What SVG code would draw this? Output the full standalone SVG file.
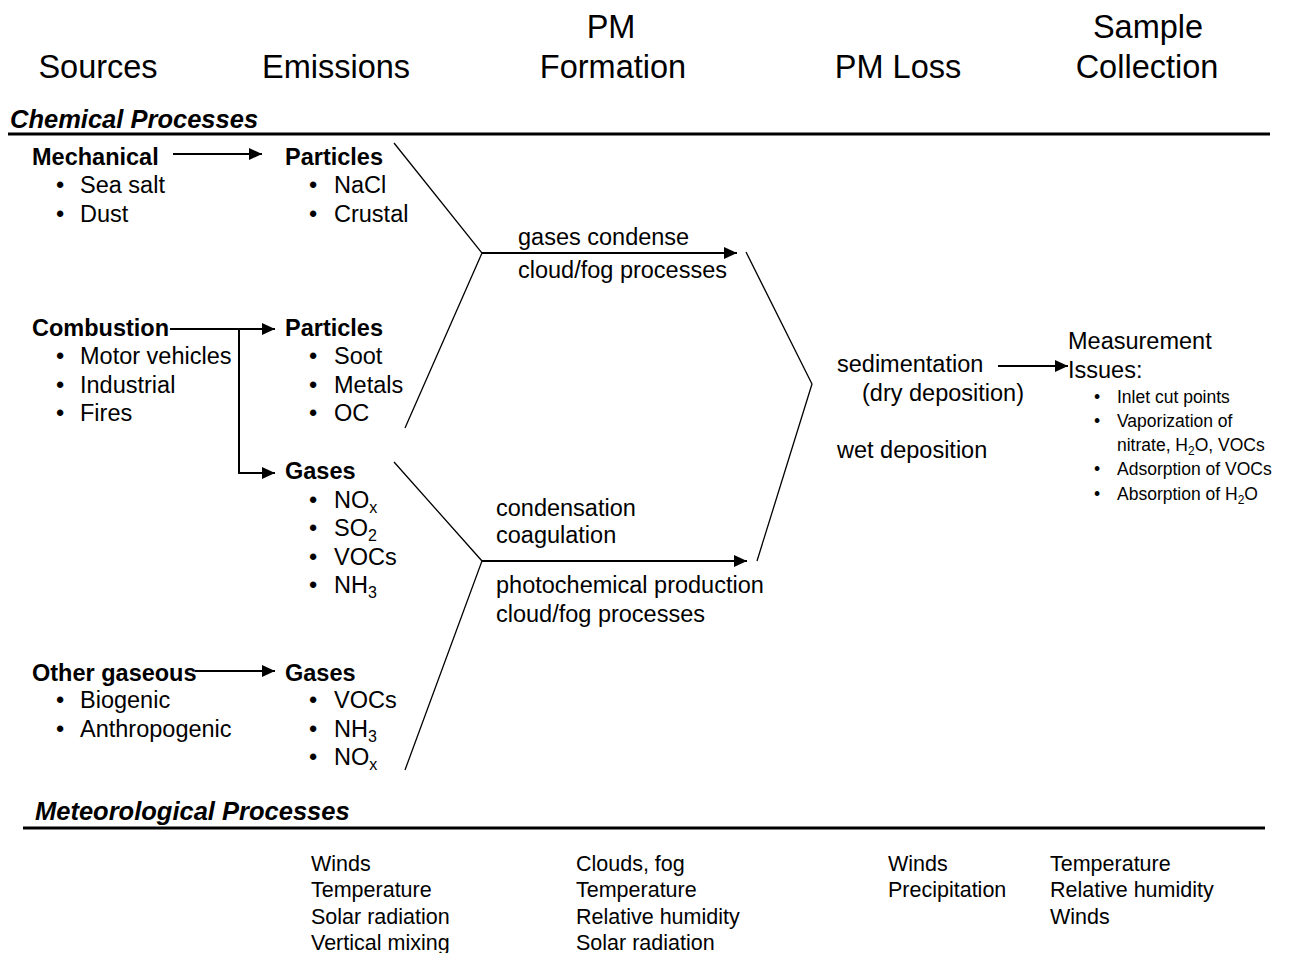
<svg xmlns="http://www.w3.org/2000/svg" width="1299" height="953" viewBox="0 0 1299 953">
<style>
text{font-family:"Liberation Sans",Arial,sans-serif;fill:#000}
.h{font-size:32.5px;text-anchor:middle}
.sec{font-size:25.5px;font-weight:bold;font-style:italic}
.b{font-size:23.5px;font-weight:bold}
.t{font-size:23.5px}
.s{font-size:17.5px}
.m{font-size:21.5px}
.arr{stroke:#000;stroke-width:2;fill:none;marker-end:url(#ah)}
.ln{stroke:#000;stroke-width:1.3;fill:none}
.rule{stroke:#000;stroke-width:3.2}
</style>
<defs>
<marker id="ah" markerUnits="userSpaceOnUse" markerWidth="14" markerHeight="12" refX="13" refY="6" orient="auto">
<path d="M0,0 L13,6 L0,12 Z" fill="#000"/>
</marker>
</defs>
<rect width="1299" height="953" fill="#fff"/>
<g id="headers">
<text class="h" x="98" y="78">Sources</text>
<text class="h" x="336" y="78">Emissions</text>
<text class="h" x="611" y="38">PM</text>
<text class="h" x="613" y="78">Formation</text>
<text class="h" x="898" y="78">PM Loss</text>
<text class="h" x="1148" y="38">Sample</text>
<text class="h" x="1147" y="78">Collection</text>
</g>
<g id="chemical-section">
<text class="sec" x="10" y="128">Chemical Processes</text>
<line class="rule" x1="8" y1="134" x2="1270" y2="134"/>
</g>
<g id="mechanical">
<text class="b" x="32" y="165">Mechanical</text>
<text class="t" x="56" y="193">•</text><text class="t" x="80" y="193">Sea salt</text>
<text class="t" x="56" y="222">•</text><text class="t" x="80" y="222">Dust</text>
</g>
<g id="combustion">
<text class="b" x="32" y="336">Combustion</text>
<text class="t" x="56" y="364">•</text><text class="t" x="80" y="364">Motor vehicles</text>
<text class="t" x="56" y="393">•</text><text class="t" x="80" y="393">Industrial</text>
<text class="t" x="56" y="421">•</text><text class="t" x="80" y="421">Fires</text>
</g>
<g id="other-gaseous">
<text class="b" x="32" y="681">Other gaseous</text>
<text class="t" x="56" y="708">•</text><text class="t" x="80" y="708">Biogenic</text>
<text class="t" x="56" y="737">•</text><text class="t" x="80" y="737">Anthropogenic</text>
</g>
<g id="particles-1">
<text class="b" x="285" y="165">Particles</text>
<text class="t" x="309" y="193">•</text><text class="t" x="334" y="193">NaCl</text>
<text class="t" x="309" y="222">•</text><text class="t" x="334" y="222">Crustal</text>
</g>
<g id="particles-2">
<text class="b" x="285" y="336">Particles</text>
<text class="t" x="309" y="364">•</text><text class="t" x="334" y="364">Soot</text>
<text class="t" x="309" y="393">•</text><text class="t" x="334" y="393">Metals</text>
<text class="t" x="309" y="421">•</text><text class="t" x="334" y="421">OC</text>
</g>
<g id="gases-1">
<text class="b" x="285" y="479">Gases</text>
<text class="t" x="309" y="508">•</text><text class="t" x="334" y="508">NO<tspan dy="5" font-size="16">x</tspan></text>
<text class="t" x="309" y="536">•</text><text class="t" x="334" y="536">SO<tspan dy="5" font-size="16">2</tspan></text>
<text class="t" x="309" y="565">•</text><text class="t" x="334" y="565">VOCs</text>
<text class="t" x="309" y="593">•</text><text class="t" x="334" y="593">NH<tspan dy="5" font-size="16">3</tspan></text>
</g>
<g id="gases-2">
<text class="b" x="285" y="681">Gases</text>
<text class="t" x="309" y="708">•</text><text class="t" x="334" y="708">VOCs</text>
<text class="t" x="309" y="737">•</text><text class="t" x="334" y="737">NH<tspan dy="5" font-size="16">3</tspan></text>
<text class="t" x="309" y="765">•</text><text class="t" x="334" y="765">NO<tspan dy="5" font-size="16">x</tspan></text>
</g>
<g id="formation-upper">
<text class="t" x="518" y="245">gases condense</text>
<text class="t" x="518" y="278">cloud/fog processes</text>
</g>
<g id="formation-lower">
<text class="t" x="496" y="516">condensation</text>
<text class="t" x="496" y="543">coagulation</text>
<text class="t" x="496" y="593">photochemical production</text>
<text class="t" x="496" y="622">cloud/fog processes</text>
</g>
<g id="pm-loss">
<text class="t" x="837" y="372">sedimentation</text>
<text class="t" x="862" y="401">(dry deposition)</text>
<text class="t" x="837" y="458">wet deposition</text>
</g>
<g id="sample-collection">
<text class="t" x="1068" y="349">Measurement</text>
<text class="t" x="1068" y="378">Issues:</text>
<text class="s" x="1094" y="403">•</text><text class="s" x="1117" y="403">Inlet cut points</text>
<text class="s" x="1094" y="427">•</text><text class="s" x="1117" y="427">Vaporization of</text>
<text class="s" x="1117" y="451">nitrate, H<tspan dy="4" font-size="12">2</tspan><tspan dy="-4">O, VOCs</tspan></text>
<text class="s" x="1094" y="475">•</text><text class="s" x="1117" y="475">Adsorption of VOCs</text>
<text class="s" x="1094" y="500">•</text><text class="s" x="1117" y="500">Absorption of H<tspan dy="4" font-size="12">2</tspan><tspan dy="-4">O</tspan></text>
</g>
<g id="meteorological-section">
<text class="sec" x="35" y="820">Meteorological Processes</text>
<line class="rule" x1="23" y1="828" x2="1265" y2="828"/>
</g>
<g id="met-emissions">
<text class="m" x="311" y="871">Winds</text>
<text class="m" x="311" y="897">Temperature</text>
<text class="m" x="311" y="924">Solar radiation</text>
<text class="m" x="311" y="950">Vertical mixing</text>
</g>
<g id="met-formation">
<text class="m" x="576" y="871">Clouds, fog</text>
<text class="m" x="576" y="897">Temperature</text>
<text class="m" x="576" y="924">Relative humidity</text>
<text class="m" x="576" y="950">Solar radiation</text>
</g>
<g id="met-loss">
<text class="m" x="888" y="871">Winds</text>
<text class="m" x="888" y="897">Precipitation</text>
</g>
<g id="met-collection">
<text class="m" x="1050" y="871">Temperature</text>
<text class="m" x="1050" y="897">Relative humidity</text>
<text class="m" x="1050" y="924">Winds</text>
</g>
<g id="connectors">
<line class="arr" x1="173" y1="154" x2="262" y2="154"/>
<line class="arr" x1="170" y1="329" x2="275" y2="329"/>
<polyline class="arr" points="239,329 239,473 275,473"/>
<line class="arr" x1="195" y1="671" x2="275" y2="671"/>
<polyline class="ln" points="394,143 482,253 405,428"/>
<polyline class="ln" points="394,462 482,561 405,770"/>
<line class="arr" x1="482" y1="253" x2="737" y2="253"/>
<line class="arr" x1="482" y1="561" x2="747" y2="561"/>
<polyline class="ln" points="746,252 812,384 757,561"/>
<line class="arr" x1="998" y1="366" x2="1068" y2="366"/>
</g>
</svg>
